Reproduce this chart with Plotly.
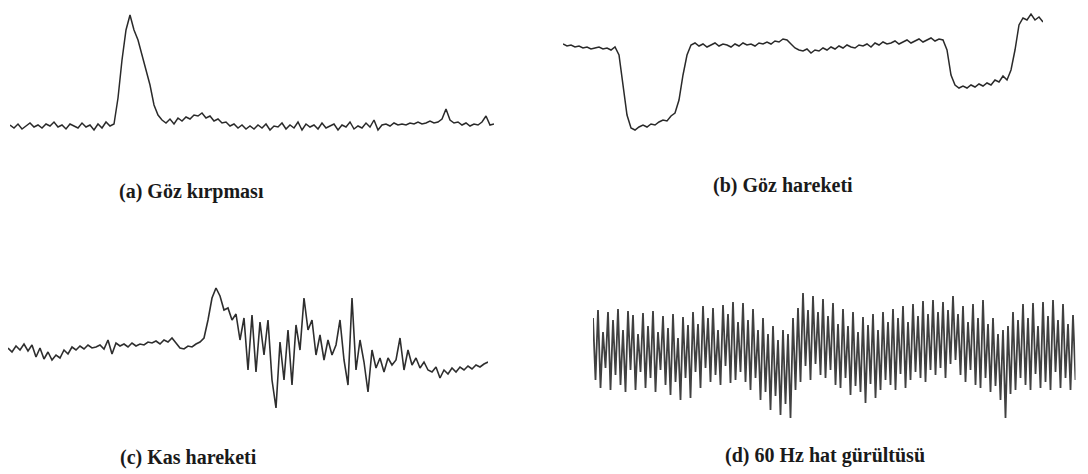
import plotly.graph_objects as go

# ---- data (amplitudes, arbitrary units) ----
a_blink = [15, 12, 16, 11, 14, 17, 13, 15, 12, 16, 14, 18, 13, 15, 11, 16, 14, 12, 17, 13, 15, 10, 16, 12, 18, 14, 16,
           42, 80, 110, 125, 110, 100, 85, 72, 55, 35, 25, 20,
           17, 21, 16, 22, 19, 23, 21, 25, 24, 27, 22, 24, 19, 21, 17, 18, 14, 16, 12, 15, 11, 14,
           11, 15, 12, 16, 10, 14, 13, 17, 11, 15, 12, 18, 10, 16, 13, 15, 11, 17, 12, 14, 16, 10, 15, 13, 18, 11, 14,
           12, 17, 13, 20, 10, 15, 16, 14, 17, 15, 16, 15, 17, 16, 18, 16, 17, 19, 17, 18,
           21, 31, 20, 17, 18, 15, 17, 14, 16, 15, 18, 24, 15, 16]

b_eye_move = [96, 94, 95, 93, 94, 92, 93, 91, 92, 93, 91, 92, 90, 93,
              85, 55, 25, 12, 10, 13, 15, 13, 16, 15, 18, 20, 19, 24, 27, 40, 65, 85, 95,
              97, 94, 96, 93, 95, 97, 94, 96, 95, 93, 96, 94, 97, 95, 96, 94, 97, 96, 98, 96, 99, 98,
              101, 100, 96, 92, 90, 89, 91, 87, 90,
              89, 92, 90, 93, 91, 94, 92, 95, 93, 92, 95, 94, 96, 93, 97, 95, 98, 96, 97, 99, 96, 98, 100, 97, 99,
              101, 98, 100, 102, 99, 101, 100,
              90, 65, 55, 52, 54, 52, 55, 53, 56, 54, 57, 55, 60, 58, 64, 60, 70, 90, 115, 122, 120, 126, 120, 123, 118]

c_muscle = [72, 68, 74, 70, 76, 69, 75, 63, 72, 61, 68, 60, 65, 62, 70, 66, 73, 70, 74, 71, 75, 72, 73, 75, 71,
            80, 66, 77, 74, 76, 73, 77, 74, 76, 75, 78, 77, 79, 76, 80, 78, 82, 77, 72, 71, 74, 73, 76, 78,
            82, 100, 122, 132, 124, 110, 112, 100, 106,
            80, 102, 50, 105, 48, 98, 65, 100, 40, 12, 78, 40, 90, 35, 95, 70, 122, 90, 100, 65, 85, 60, 80, 65,
            75, 100, 60, 35, 122, 50, 80, 58, 28, 70, 52, 62, 48, 62, 55, 60, 82, 50, 70, 55, 62, 52, 58, 50,
            48, 53, 42, 50, 46, 52, 48, 53, 50, 54, 51, 55, 53, 56, 58]

d_line_noise = [112, 50, 120, 42, 98, 62, 118, 40, 110, 55, 121, 45, 100, 38, 119, 60, 115, 40, 96, 58,
                117, 42, 104, 52, 119, 38, 98, 60, 114, 45, 102, 35, 116, 48, 92, 30, 113, 52, 105, 32,
                118, 58, 106, 42, 124, 62, 112, 48, 122, 55, 100, 45, 125, 64, 116, 47, 128, 50, 108, 58,
                127, 48, 110, 40, 121, 52, 100, 30, 112, 38, 96, 20, 104, 34, 90, 15, 100, 26, 96, 12,
                112, 40, 122, 48, 137, 64, 120, 50, 134, 66, 118, 55, 131, 52, 114, 60, 127, 45, 106, 42,
                121, 52, 104, 35, 118, 44, 98, 38, 113, 27, 105, 46, 116, 32, 100, 40, 118, 50, 108, 45,
                121, 40, 112, 56, 124, 42, 108, 50, 126, 58, 114, 52, 129, 48, 116, 60, 130, 55, 118, 62,
                128, 52, 120, 66, 134, 70, 116, 55, 124, 48, 108, 60, 126, 45, 112, 42, 130, 52, 106, 38,
                112, 44, 96, 30, 100, 12, 104, 36, 118, 40, 110, 52, 126, 45, 112, 40, 127, 56, 104, 42,
                128, 48, 114, 40, 130, 58, 110, 42, 126, 52, 106, 40, 115, 50]

labels = ["(a) Göz kırpması", "(b) Göz hareketi", "(c) Kas hareketi", "(d) 60 Hz hat gürültüsü"]

# ---- figure ----
W, H = 1088, 474
series = [a_blink, b_eye_move, c_muscle, d_line_noise]
# panel boxes in pixels: (x0, x1, ytop, ybottom, yrange_max)
boxes = [(10, 494, 0, 140, 140), (563, 1043, 0, 140, 140),
         (8, 488, 280, 420, 140), (593, 1075.5, 280, 430, 150)]
widths = [1.5, 1.5, 1.6, 1.8]
colors = ["#2a2a2a", "#2a2a2a", "#2e2e2e", "#404040"]

fig = go.Figure()
layout = dict(width=W, height=H, margin=dict(l=0, r=0, t=0, b=0),
              paper_bgcolor="white", plot_bgcolor="white", showlegend=False)
for i, (vals, (x0, x1, yt, yb, ymax)) in enumerate(zip(series, boxes)):
    n = i + 1
    suffix = "" if n == 1 else str(n)
    fig.add_trace(go.Scatter(x=list(range(len(vals))), y=vals, mode="lines",
                             line=dict(color=colors[i], width=widths[i]),
                             xaxis="x" + suffix, yaxis="y" + suffix, hoverinfo="skip"))
    layout["xaxis" + suffix] = dict(domain=[x0 / W, x1 / W], range=[0, len(vals) - 1],
                                    visible=False, anchor="y" + suffix)
    layout["yaxis" + suffix] = dict(domain=[1 - yb / H, 1 - yt / H], range=[0, ymax],
                                    visible=False, anchor="x" + suffix)

fig.update_layout(**layout)

label_pos = [(191, 191), (783, 185), (188, 457), (825, 455)]
for text, (px, py) in zip(labels, label_pos):
    fig.add_annotation(x=px / W, y=1 - py / H, xref="paper", yref="paper", text="<b>" + text + "</b>",
                       showarrow=False, xanchor="center", yanchor="middle",
                       font=dict(family="Liberation Serif", size=20, color="#1a1a1a"))

fig.write_html("out.html", config={"displayModeBar": False},
               post_script="document.body.style.margin='0';document.body.style.overflow='hidden';")
